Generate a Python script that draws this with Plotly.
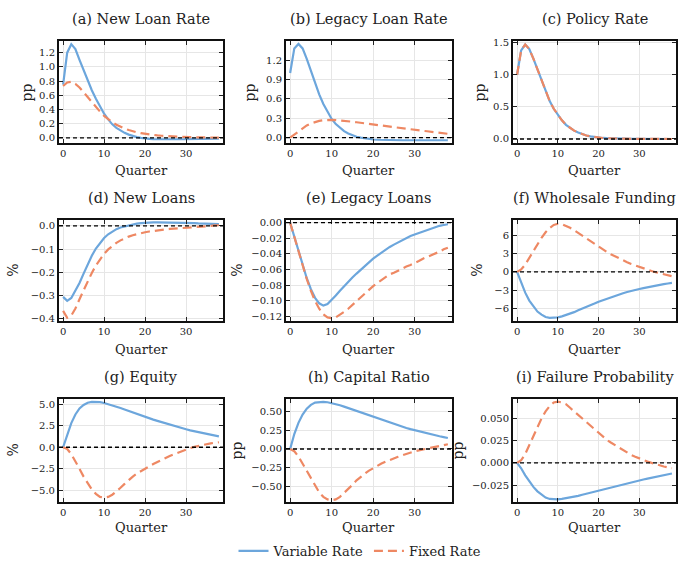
import plotly.graph_objects as go

W, H = 678, 566
quarters = list(range(39))

# (a) New Loan Rate
new_loan_rate_var = [0.75, 1.2, 1.32, 1.25, 1.1, 0.95, 0.8, 0.67, 0.55, 0.44, 0.34, 0.26, 0.19, 0.14, 0.1, 0.07,
                     0.045, 0.025, 0.01, 0.0, -0.01, -0.015, -0.018, -0.02, -0.02, -0.02, -0.02, -0.02, -0.02, -0.02,
                     -0.02, -0.019, -0.018, -0.017, -0.016, -0.015, -0.014, -0.013, -0.012]
new_loan_rate_fix = [0.73, 0.78, 0.79, 0.76, 0.71, 0.64, 0.57, 0.5, 0.43, 0.37, 0.31, 0.26, 0.22, 0.185, 0.155, 0.13,
                     0.11, 0.09, 0.077, 0.065, 0.055, 0.047, 0.04, 0.034, 0.029, 0.025, 0.021, 0.018, 0.015, 0.013,
                     0.011, 0.009, 0.008, 0.007, 0.006, 0.005, 0.004, 0.003, 0.003]
# (b) Legacy Loan Rate
legacy_rate_var = [1.0, 1.38, 1.45, 1.38, 1.22, 1.03, 0.84, 0.67, 0.52, 0.4, 0.29, 0.21, 0.15, 0.1, 0.065, 0.035,
                   0.015, 0.0, -0.013, -0.022, -0.028, -0.032, -0.035, -0.037, -0.038, -0.039, -0.04, -0.04, -0.04,
                   -0.04, -0.04, -0.04, -0.04, -0.04, -0.04, -0.04, -0.04, -0.04, -0.04]
legacy_rate_fix = [0.0, 0.05, 0.1, 0.15, 0.19, 0.22, 0.245, 0.26, 0.27, 0.275, 0.275, 0.272, 0.268, 0.262, 0.255,
                   0.247, 0.238, 0.229, 0.22, 0.21, 0.2, 0.192, 0.184, 0.176, 0.168, 0.16, 0.152, 0.145, 0.138, 0.131,
                   0.12, 0.113, 0.106, 0.099, 0.092, 0.085, 0.077, 0.068, 0.06]
# (c) Policy Rate
policy_rate_var = [1.0, 1.38, 1.47, 1.4, 1.25, 1.08, 0.9, 0.73, 0.59, 0.47, 0.37, 0.29, 0.22, 0.17, 0.13, 0.1, 0.075,
                   0.055, 0.04, 0.03, 0.022, 0.016, 0.012, 0.009, 0.006, 0.005, 0.004, 0.003, 0.002, 0.002, 0.001,
                   0.001, 0.001, 0.0, 0.0, 0.0, 0.0, 0.0, 0.0]
policy_rate_fix = list(policy_rate_var)
# (d) New Loans
new_loans_var = [-0.305, -0.322, -0.31, -0.28, -0.245, -0.205, -0.165, -0.128, -0.097, -0.072, -0.052, -0.036,
                 -0.024, -0.014, -0.007, -0.002, 0.003, 0.007, 0.01, 0.012, 0.014, 0.015, 0.015, 0.015, 0.015, 0.015,
                 0.015, 0.014, 0.014, 0.013, 0.013, 0.012, 0.012, 0.011, 0.011, 0.01, 0.009, 0.009, 0.008]
new_loans_fix = [-0.365, -0.395, -0.385, -0.355, -0.315, -0.275, -0.237, -0.202, -0.17, -0.143, -0.12, -0.101,
                 -0.086, -0.073, -0.062, -0.053, -0.046, -0.04, -0.035, -0.031, -0.027, -0.024, -0.021, -0.019,
                 -0.017, -0.015, -0.013, -0.012, -0.01, -0.009, -0.008, -0.006, -0.005, -0.004, -0.002, -0.001, 0.0,
                 0.002, 0.003]
# (e) Legacy Loans
legacy_loans_var = [0.0, -0.018, -0.037, -0.055, -0.071, -0.085, -0.096, -0.103, -0.106, -0.104, -0.099, -0.093,
                    -0.087, -0.081, -0.075, -0.07, -0.065, -0.06, -0.055, -0.05, -0.046, -0.042, -0.038, -0.034,
                    -0.031, -0.028, -0.025, -0.022, -0.02, -0.017, -0.015, -0.013, -0.011, -0.009, -0.007, -0.006,
                    -0.004, -0.003, -0.002]
legacy_loans_fix = [0.0, -0.018, -0.037, -0.055, -0.072, -0.087, -0.1, -0.11, -0.117, -0.121, -0.122, -0.121,
                    -0.118, -0.114, -0.11, -0.105, -0.1, -0.095, -0.09, -0.085, -0.081, -0.077, -0.073, -0.069,
                    -0.066, -0.064, -0.061, -0.058, -0.056, -0.054, -0.052, -0.049, -0.046, -0.044, -0.041, -0.039,
                    -0.037, -0.034, -0.032]
# (f) Wholesale Funding
wholesale_var = [0.0, -1.8, -3.4, -4.7, -5.7, -6.5, -7.0, -7.4, -7.55, -7.55, -7.45, -7.3, -7.1, -6.85, -6.6, -6.3,
                 -6.05, -5.75, -5.45, -5.2, -4.9, -4.65, -4.4, -4.15, -3.9, -3.7, -3.5, -3.3, -3.1, -2.95, -2.8,
                 -2.65, -2.5, -2.4, -2.25, -2.15, -2.0, -1.9, -1.8]
wholesale_fix = [0.0, 0.4, 1.2, 2.3, 3.5, 4.6, 5.6, 6.5, 7.2, 7.7, 7.9, 7.85, 7.6, 7.25, 6.85, 6.4, 5.95, 5.5, 5.0,
                 4.55, 4.1, 3.7, 3.3, 2.9, 2.55, 2.2, 1.9, 1.6, 1.3, 1.05, 0.8, 0.55, 0.35, 0.15, -0.05, -0.2, -0.4,
                 -0.55, -0.7]
# (g) Equity
equity_var = [0.0, 1.5, 2.8, 3.8, 4.5, 4.9, 5.15, 5.25, 5.27, 5.22, 5.12, 5.0, 4.85, 4.7, 4.55, 4.38, 4.2, 4.03,
              3.86, 3.7, 3.53, 3.37, 3.2, 3.05, 2.9, 2.75, 2.6, 2.47, 2.33, 2.2, 2.08, 1.96, 1.85, 1.74, 1.63, 1.53,
              1.43, 1.34, 1.25]
equity_fix = [0.0, -0.2, -0.8, -1.6, -2.5, -3.4, -4.2, -4.9, -5.4, -5.75, -5.85, -5.75, -5.5, -5.15, -4.7, -4.25,
              -3.8, -3.4, -3.05, -2.75, -2.5, -2.22, -1.95, -1.7, -1.45, -1.22, -1.02, -0.82, -0.62, -0.43, -0.25,
              -0.1, 0.04, 0.16, 0.27, 0.37, 0.45, 0.52, 0.58]
# (h) Capital Ratio
capital_var = [0.0, 0.2, 0.35, 0.46, 0.54, 0.59, 0.62, 0.63, 0.63, 0.625, 0.615, 0.6, 0.585, 0.567, 0.548, 0.528,
               0.508, 0.487, 0.466, 0.445, 0.425, 0.405, 0.386, 0.367, 0.349, 0.331, 0.314, 0.297, 0.281, 0.265,
               0.25, 0.236, 0.222, 0.208, 0.195, 0.182, 0.17, 0.158, 0.147]
capital_fix = [0.0, -0.03, -0.1, -0.2, -0.3, -0.4, -0.5, -0.58, -0.64, -0.675, -0.685, -0.675, -0.64, -0.59, -0.535,
               -0.48, -0.42, -0.37, -0.33, -0.29, -0.255, -0.225, -0.195, -0.17, -0.145, -0.125, -0.105, -0.085,
               -0.065, -0.048, -0.032, -0.018, -0.005, 0.008, 0.02, 0.032, 0.043, 0.053, 0.063]
# (i) Failure Probability
failure_var = [0.0, -0.006, -0.014, -0.021, -0.027, -0.032, -0.036, -0.039, -0.0405, -0.041, -0.041, -0.0405,
               -0.0398, -0.039, -0.038, -0.037, -0.0358, -0.0346, -0.0334, -0.0322, -0.031, -0.0298, -0.0286,
               -0.0274, -0.0262, -0.025, -0.0239, -0.0228, -0.0217, -0.0206, -0.0196, -0.0186, -0.0176, -0.0166,
               -0.0156, -0.0146, -0.0137, -0.0128, -0.0119]
failure_fix = [0.0, 0.003, 0.01, 0.02, 0.031, 0.041, 0.05, 0.058, 0.064, 0.068, 0.069, 0.068, 0.066, 0.062, 0.058,
               0.054, 0.049, 0.045, 0.041, 0.037, 0.033, 0.029, 0.026, 0.023, 0.02, 0.017, 0.014, 0.012, 0.009,
               0.007, 0.005, 0.003, 0.0015, 0.0, -0.0015, -0.0028, -0.004, -0.005, -0.006]

titles = ["(a) New Loan Rate", "(b) Legacy Loan Rate", "(c) Policy Rate",
          "(d) New Loans", "(e) Legacy Loans", "(f) Wholesale Funding",
          "(g) Equity", "(h) Capital Ratio", "(i) Failure Probability"]
ylabels = ["pp", "pp", "pp", "%", "%", "%", "%", "pp", "pp"]
series_var = [new_loan_rate_var, legacy_rate_var, policy_rate_var, new_loans_var, legacy_loans_var,
              wholesale_var, equity_var, capital_var, failure_var]
series_fix = [new_loan_rate_fix, legacy_rate_fix, policy_rate_fix, new_loans_fix, legacy_loans_fix,
              wholesale_fix, equity_fix, capital_fix, failure_fix]
x_tickvals = [0, 10, 20, 30]
x_ticktext = ["0", "10", "20", "30"]
y_tickvals = [
    [0.0, 0.2, 0.4, 0.6, 0.8, 1.0, 1.2],
    [0.0, 0.3, 0.6, 0.9, 1.2],
    [0.0, 0.5, 1.0, 1.5],
    [-0.4, -0.3, -0.2, -0.1, 0.0],
    [-0.12, -0.10, -0.08, -0.06, -0.04, -0.02, 0.0],
    [-6, -3, 0, 3, 6],
    [-5.0, -2.5, 0.0, 2.5, 5.0],
    [-0.5, -0.25, 0.0, 0.25, 0.5],
    [-0.025, 0.0, 0.025, 0.05],
]
y_ticktext = [
    ["0.0", "0.2", "0.4", "0.6", "0.8", "1.0", "1.2"],
    ["0.0", "0.3", "0.6", "0.9", "1.2"],
    ["0.0", "0.5", "1.0", "1.5"],
    ["\u22120.4", "\u22120.3", "\u22120.2", "\u22120.1", "0.0"],
    ["\u22120.12", "\u22120.10", "\u22120.08", "\u22120.06", "\u22120.04", "\u22120.02", "0.00"],
    ["\u22126", "\u22123", "0", "3", "6"],
    ["\u22125.0", "\u22122.5", "0.0", "2.5", "5.0"],
    ["\u22120.50", "\u22120.25", "0.00", "0.25", "0.50"],
    ["\u22120.025", "0.000", "0.025", "0.050"],
]

# layout settings (pixels)
y_ranges = [[-0.08, 1.36], [-0.09, 1.49], [-0.07, 1.52], [-0.41, 0.025], [-0.126, 0.0033],
            [-8.1, 8.5], [-6.35, 5.6], [-0.71, 0.67], [-0.044, 0.072]]
col_px = [(59, 223), (286, 452), (513, 676)]
row_px = [(38, 142), (220, 323), (402, 507)]
title_y = [15, 197, 380]
xlabel_y = [170, 352, 533]
ylabel_x = [27, 250, 480, 13, 237, 477, 13, 237, 458]

BLUE = "#6CA6DC"
ORANGE = "#EE8863"
FONT = "DejaVu Serif"

fig = go.Figure()
annotations = []
shapes = []
for i in range(9):
    r, c = divmod(i, 3)
    k = "" if i == 0 else str(i + 1)
    xa, ya = "x" + k, "y" + k
    x0, x1 = col_px[c]
    y0, y1 = row_px[r]
    fig.add_trace(go.Scatter(x=quarters, y=series_var[i], mode="lines", name="Variable Rate",
                             line=dict(color=BLUE, width=2.2), xaxis=xa, yaxis=ya,
                             showlegend=(i == 0), legendgroup="v"))
    fig.add_trace(go.Scatter(x=quarters, y=series_fix[i], mode="lines", name="Fixed Rate",
                             line=dict(color=ORANGE, width=2.2, dash="9px,5px"), xaxis=xa, yaxis=ya,
                             showlegend=(i == 0), legendgroup="f"))
    shapes.append(dict(type="line", xref=xa + " domain", yref=ya, x0=0, x1=1, y0=0, y1=0,
                       line=dict(color="black", width=1.3, dash="4px,3px"), layer="above"))
    axis_common = dict(showline=True, linecolor="#111", linewidth=2, mirror="ticks",
                       ticks="inside", ticklen=4, tickwidth=1.3, tickcolor="#222",
                       showgrid=True, gridcolor="#E6E6E6", gridwidth=1, zeroline=False,
                       tickfont=dict(family=FONT, size=10, color="#222"))
    fig.layout["xaxis" + k] = dict(axis_common, domain=[x0 / W, x1 / W], anchor=ya, range=[-1, 39],
                                   tickvals=x_tickvals, ticktext=x_ticktext)
    fig.layout["yaxis" + k] = dict(axis_common, domain=[1 - y1 / H, 1 - y0 / H], anchor=xa,
                                   range=y_ranges[i], tickvals=y_tickvals[i], ticktext=y_ticktext[i])
    cx = (x0 + x1) / 2 / W
    annotations.append(dict(text=titles[i], x=cx, y=1 - title_y[r] / H, xref="paper", yref="paper",
                            showarrow=False, xanchor="center", yanchor="middle",
                            font=dict(family=FONT, size=14.5, color="#222")))
    annotations.append(dict(text="Quarter", x=cx, y=1 - xlabel_y[r] / H, xref="paper", yref="paper",
                            showarrow=False, xanchor="center", yanchor="middle",
                            font=dict(family=FONT, size=13, color="#222")))
    annotations.append(dict(text=ylabels[i], x=ylabel_x[i] / W, y=1 - (y0 + y1) / 2 / H, xref="paper",
                            yref="paper", showarrow=False, xanchor="center", yanchor="middle", textangle=-90,
                            font=dict(family=FONT, size=14, color="#222")))

fig.update_layout(
    width=W, height=H, margin=dict(l=0, r=0, t=0, b=0),
    paper_bgcolor="white", plot_bgcolor="white",
    font=dict(family=FONT),
    annotations=annotations, shapes=shapes,
    legend=dict(orientation="h", x=360 / W, xanchor="center", y=1 - 557 / H, yanchor="middle",
                font=dict(family=FONT, size=13, color="#222"), itemwidth=30, bgcolor="rgba(0,0,0,0)"),
)
fig.write_html("out.html", config={"displayModeBar": False},
               post_script="document.body.style.margin='0';document.body.style.overflow='hidden';")
